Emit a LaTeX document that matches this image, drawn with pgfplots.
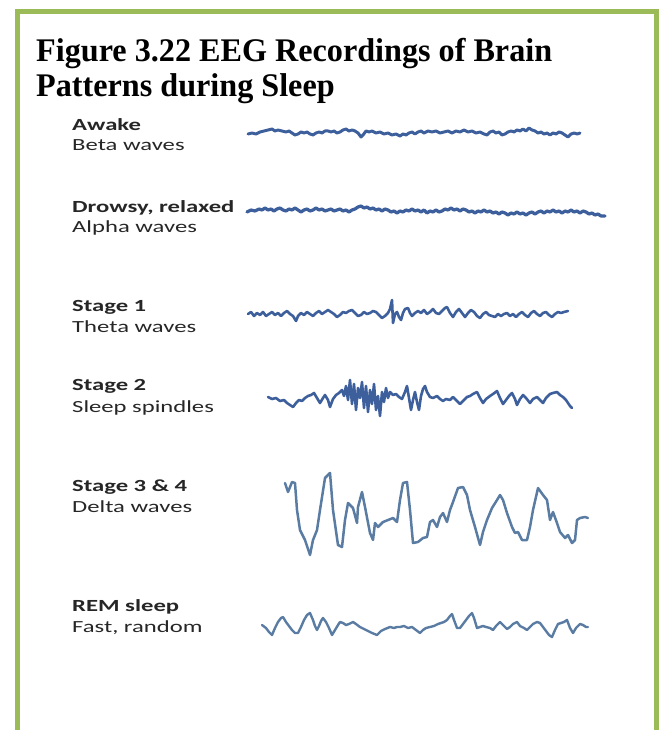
\documentclass[border=0pt]{standalone}
\usepackage{pgfplots}
\pgfplotsset{compat=1.18}
\usepackage{fontspec}
\setmainfont{Liberation Serif}
\newfontfamily\titlefont[FakeStretch=0.975]{Liberation Serif}
\newfontfamily\lab[FakeStretch=1.45]{Carlito}
\definecolor{bordergreen}{HTML}{9BBB59}
\definecolor{wave}{HTML}{3D5F9C}
\definecolor{wavelight}{HTML}{5A7CA3}
\definecolor{labtext}{HTML}{262626}
\begin{document}
\begin{tikzpicture}
\begin{axis}[
  at={(0,0)}, anchor=south west,
  scale only axis, width=659pt, height=730pt,
  xmin=0, xmax=659, ymin=0, ymax=730, y dir=reverse,
  hide axis, clip=true,
]
% border
\addplot[draw=bordergreen, line width=5pt, line join=miter] coordinates {(17.5,745) (17.5,11.5) (656,11.5) (656,745)};
% Awake - beta
\addplot[draw=wave, line width=3pt, line join=round, line cap=round] coordinates {
(248,134)(252,133)(256,134)(260,132)(264,131)(268,130)(272,129)(275,131)(278,130)(282,131)(286,132)(289,131)(292,133)(295,135)(298,134)(301,132)(304,133)(307,132)(310,134)(313,135)(316,133)(319,132)(322,133)(325,131)(328,131)(331,132)(334,131)(337,133)(340,132)(343,130)(346,129)(349,131)(352,130)(355,131)(358,133)(361,137)(363,135)(366,131)(369,132)(372,131)(376,133)(380,132)(384,134)(388,133)(392,135)(396,134)(400,136)(403,134)(406,135)(409,133)(412,132)(415,134)(418,132)(421,131)(424,133)(428,131)(432,132)(436,131)(440,133)(444,132)(448,131)(452,133)(456,131)(460,132)(464,130)(468,132)(472,131)(476,133)(480,132)(484,134)(487,135)(490,132)(493,131)(496,133)(499,132)(502,135)(505,134)(508,132)(511,131)(514,132)(517,130)(520,131)(523,129)(526,131)(529,128)(532,130)(535,131)(538,133)(541,132)(544,134)(547,133)(550,135)(553,133)(556,134)(559,132)(562,133)(565,135)(568,137)(571,134)(574,133)(577,134)(580,133)};
% Drowsy - alpha
\addplot[draw=wave, line width=3.2pt, line join=round, line cap=round] coordinates {
(247,212)(251,210)(255,211)(259,209)(262,210)(265,208)(268,210)(271,209)(274,211)(277,209)(280,208)(283,210)(286,211)(289,209)(292,210)(295,208)(298,210)(301,212)(304,210)(307,209)(310,211)(313,210)(316,208)(319,210)(322,209)(325,211)(328,210)(331,209)(334,211)(337,210)(340,209)(343,211)(346,210)(349,212)(352,210)(355,209)(358,207)(361,206)(364,208)(367,207)(370,209)(373,208)(376,210)(379,209)(382,211)(385,209)(388,210)(391,212)(394,211)(397,213)(400,211)(403,212)(406,210)(409,211)(412,209)(415,211)(418,210)(421,212)(424,210)(427,213)(430,211)(433,212)(436,210)(439,212)(442,211)(445,209)(448,210)(451,208)(454,210)(457,209)(460,211)(463,209)(466,210)(469,212)(472,211)(475,213)(478,211)(481,212)(484,210)(487,212)(490,211)(493,213)(496,212)(499,214)(502,212)(505,213)(508,215)(511,213)(514,214)(517,212)(520,214)(523,213)(526,215)(529,213)(532,212)(535,214)(538,212)(541,211)(544,213)(547,211)(550,212)(553,210)(556,212)(559,211)(562,213)(565,211)(568,212)(571,210)(574,212)(577,211)(580,213)(583,211)(586,212)(589,214)(592,213)(595,215)(598,214)(601,216)(605,216)};
% Stage 1 - theta
\addplot[draw=wave, line width=2.6pt, line join=round, line cap=round] coordinates {
(248,314)(251,312)(254,316)(257,313)(260,315)(263,312)(266,316)(269,314)(272,312)(275,315)(278,313)(281,316)(284,313)(287,311)(290,314)(293,316)(296,321)(298,316)(301,313)(304,315)(307,312)(310,314)(313,316)(316,313)(319,311)(322,314)(325,312)(328,310)(331,312)(334,314)(337,317)(340,315)(343,312)(346,313)(349,311)(352,310)(355,313)(358,316)(361,315)(364,312)(367,314)(370,313)(373,311)(376,312)(379,315)(382,318)(385,316)(388,313)(390,309)(392,300)(393,323)(395,314)(397,312)(399,317)(401,320)(403,313)(405,309)(408,308)(410,313)(412,316)(415,313)(418,311)(421,313)(424,310)(427,314)(430,312)(433,309)(436,313)(439,314)(442,311)(445,308)(447,307)(450,313)(453,317)(456,312)(459,309)(462,313)(465,317)(468,313)(471,310)(474,312)(477,316)(480,318)(483,314)(486,312)(489,315)(492,316)(495,317)(498,314)(501,316)(504,314)(507,313)(510,316)(513,314)(516,317)(519,314)(522,312)(525,315)(528,317)(531,313)(534,311)(537,314)(540,316)(543,313)(546,312)(549,315)(552,317)(555,314)(558,312)(561,313)(564,312)(568,311)};
% Stage 2 - spindles
\addplot[draw=wave, line width=2.6pt, line join=round, line cap=round] coordinates {
(268,397)(272,399)(276,398)(280,401)(284,400)(287,403)(290,405)(293,407)(296,403)(299,400)(302,401)(305,398)(308,396)(311,395)(314,393)(317,398)(320,403)(323,398)(325,395)(328,400)(330,407)(333,399)(336,395)(339,393)(342,390)(344,396)(346,386)(348,400)(350,380)(352,404)(354,384)(356,410)(358,388)(360,398)(362,382)(364,408)(366,386)(368,412)(370,390)(372,404)(374,384)(376,410)(378,396)(380,416)(382,392)(384,402)(386,388)(388,398)(390,392)(393,395)(396,394)(399,397)(402,399)(405,392)(407,386)(409,398)(411,410)(413,400)(415,392)(417,402)(419,410)(421,396)(423,389)(425,386)(427,392)(430,397)(433,398)(437,396)(440,399)(443,401)(446,399)(450,400)(453,397)(456,400)(460,404)(463,401)(467,397)(470,396)(473,394)(477,392)(480,398)(483,403)(486,399)(490,396)(493,394)(497,391)(500,398)(503,404)(506,400)(509,396)(512,393)(515,399)(517,405)(520,399)(523,395)(526,398)(530,403)(533,399)(537,397)(540,400)(543,403)(546,398)(550,394)(553,393)(557,392)(560,395)(563,397)(566,400)(568,403)(570,406)(572,408)};
% Stage 3 & 4 - delta
\addplot[draw=wavelight, line width=2.5pt, line join=round, line cap=round] coordinates {
(285,483)(288,492)(292,482)(295,483)(297,510)(300,530)(305,540)(310,555)(313,540)(317,530)(320,510)(325,478)(330,473)(333,510)(338,545)(342,547)(345,520)(348,503)(353,508)(357,523)(358,507)(362,492)(365,507)(370,533)(373,540)(375,523)(378,527)(383,522)(388,520)(393,518)(397,522)(400,500)(403,483)(407,482)(410,510)(413,543)(418,542)(423,538)(427,537)(430,522)(433,520)(437,527)(440,517)(443,513)(447,522)(450,510)(453,502)(458,488)(463,487)(467,495)(470,510)(475,527)(480,545)(483,532)(487,520)(492,508)(497,500)(500,495)(503,500)(507,513)(512,527)(515,533)(518,532)(522,540)(527,540)(530,527)(533,510)(538,488)(543,495)(547,500)(550,520)(553,512)(557,523)(560,532)(565,538)(568,535)(572,543)(575,540)(577,520)(580,518)(585,517)(588,518)};
% REM
\addplot[draw=wavelight, line width=2.4pt, line join=round, line cap=round] coordinates {
(262,625)(266,628)(269,632)(272,635)(275,628)(278,622)(281,618)(283,617)(286,622)(289,626)(292,630)(295,633)(298,633)(301,627)(304,620)(307,615)(310,613)(313,620)(315,626)(317,630)(319,626)(321,621)(323,618)(326,622)(329,628)(332,635)(335,630)(338,625)(340,622)(343,623)(346,625)(349,624)(353,622)(356,624)(360,627)(364,629)(368,631)(372,633)(377,635)(381,631)(385,629)(390,627)(394,628)(397,627)(400,627)(404,626)(408,628)(412,627)(416,630)(420,633)(423,630)(426,628)(430,627)(434,626)(438,624)(441,623)(444,622)(447,620)(450,616)(452,614)(454,620)(457,628)(460,628)(463,624)(466,620)(469,616)(472,613)(474,618)(477,628)(480,627)(483,626)(486,627)(490,628)(493,630)(496,626)(500,622)(503,625)(507,629)(510,627)(513,624)(517,622)(520,626)(524,628)(527,630)(530,627)(533,624)(537,622)(540,623)(543,627)(546,631)(549,635)(552,637)(555,630)(558,624)(561,623)(564,622)(567,620)(570,628)(573,633)(576,628)(580,624)(583,625)(586,627)(588,627)};
% title
\node[anchor=base west, inner sep=0pt, font=\titlefont\fontsize{33}{36}\selectfont\bfseries] at (axis cs:36,62) {Figure 3.22 EEG Recordings of Brain};
\node[anchor=base west, inner sep=0pt, font=\titlefont\fontsize{33}{36}\selectfont\bfseries] at (axis cs:36,97) {Patterns during Sleep};
% labels
\tikzset{lb/.style={anchor=base west, inner sep=0pt, text=labtext, font=\lab\fontsize{17}{20}\selectfont}}
\node[lb, font=\lab\fontsize{17}{20}\selectfont\bfseries] at (axis cs:72,131) {Awake};
\node[lb] at (axis cs:72,151) {Beta waves};
\node[lb, font=\lab\fontsize{17}{20}\selectfont\bfseries] at (axis cs:72,212) {Drowsy, relaxed};
\node[lb] at (axis cs:72,232) {Alpha waves};
\node[lb, font=\lab\fontsize{17}{20}\selectfont\bfseries] at (axis cs:72,311) {Stage 1};
\node[lb] at (axis cs:72,332) {Theta waves};
\node[lb, font=\lab\fontsize{17}{20}\selectfont\bfseries] at (axis cs:72,390) {Stage 2};
\node[lb] at (axis cs:72,412) {Sleep spindles};
\node[lb, font=\lab\fontsize{17}{20}\selectfont\bfseries] at (axis cs:72,491) {Stage 3 \& 4};
\node[lb] at (axis cs:72,512) {Delta waves};
\node[lb, font=\lab\fontsize{17}{20}\selectfont\bfseries] at (axis cs:72,611) {REM sleep};
\node[lb] at (axis cs:72,632) {Fast, random};
\end{axis}
\pgfresetboundingbox
\useasboundingbox (current axis.south west) rectangle (current axis.north east);
\end{tikzpicture}
\end{document}
